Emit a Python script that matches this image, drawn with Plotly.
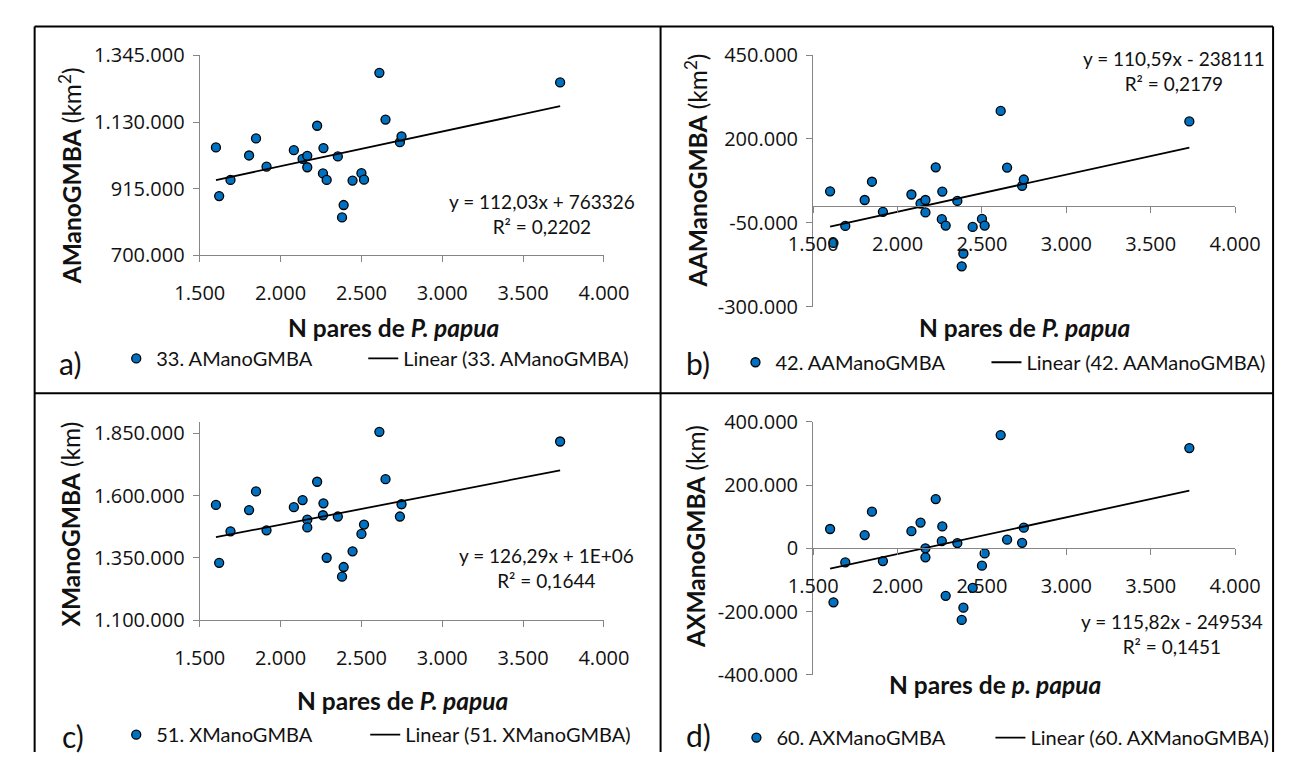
import plotly.graph_objects as go

W, H = 1301, 765

# ---------------- data ----------------
N_PARES = [1600, 1620, 1690, 1805, 1848, 1913, 2082, 2136, 2165, 2165, 2226, 2265,
           2262, 2285, 2354, 2390, 2380, 2445, 2500, 2516, 2611, 2649, 2738, 2748, 3729]

A_MANO = [1048000, 891000, 943000, 1022000, 1077000, 986000, 1039000, 1011000, 1021000,
          984000, 1118000, 1046000, 964000, 943000, 1019000, 862000, 822000, 941000,
          965000, 944000, 1289000, 1138000, 1065000, 1084000, 1258000]

AA_MANO = [43900, -110000, -59300, 18000, 72500, -17200, 34400, 7500, 18000, -19200,
           115500, 43000, -39300, -58400, 15200, -141600, -179800, -62200, -38400,
           -58400, 283800, 114700, 60200, 79100, 252300]

X_MANO = [1562900, 1330100, 1457000, 1542300, 1617200, 1460800, 1554000, 1582300,
          1503500, 1472500, 1656000, 1569500, 1521400, 1350600, 1516300, 1313400,
          1274600, 1376600, 1446500, 1484100, 1856600, 1666500, 1516300, 1565600, 1817800]

AX_MANO = [61000, -170700, -44500, 41800, 115900, -40500, 54000, 81400, 0, -28400,
           155500, 69200, 22600, -150300, 16500, -187800, -226500, -125000, -54900,
           -16200, 358000, 27400, 17400, 65200, 317000]

SERIES_NAMES = ["33. AManoGMBA", "42. AAManoGMBA", "51. XManoGMBA", "60. AXManoGMBA"]
Y_TITLES = ["<b>AManoGMBA</b> (km<sup>2</sup>)", "<b>AAManoGMBA</b> (km<sup>2</sup>)",
            "<b>XManoGMBA</b> (km)", "<b>AXManoGMBA</b> (km)"]
X_TITLES = ["<b>N pares de <i>P. papua</i></b>", "<b>N pares de <i>P. papua</i></b>",
            "<b>N pares de <i>P. papua</i></b>", "<b>N pares de <i>p. papua</i></b>"]
PANEL_LABELS = ["a)", "b)", "c)", "d)"]

# trendline coefficients as printed on the chart (c's intercept printed as 1E+06)
SLOPES = [112.03, 110.59, 126.29, 115.82]
INTERCEPTS = [763326, -238111, 1231000, -249534]
EQ_TEXT = ["y = 112,03x + 763326<br>R² = 0,2202",
           "y = 110,59x - 238111<br>R² = 0,2179",
           "y = 126,29x + 1E+06<br>R² = 0,1644",
           "y = 115,82x - 249534<br>R² = 0,1451"]

X_TICKS = [1500, 2000, 2500, 3000, 3500, 4000]
Y_TICKS = [[700000, 915000, 1130000, 1345000],
           [-300000, -50000, 200000, 450000],
           [1100000, 1350000, 1600000, 1850000],
           [-400000, -200000, 0, 200000, 400000]]
Y_RANGES = [[700000, 1345000], [-300000, 450000], [1100000, 1897000], [-400000, 400000]]
X_RANGE = [1500, 4000]

SERIES = [A_MANO, AA_MANO, X_MANO, AX_MANO]

# ---------------- layout geometry (pixels) ----------------
PLOT_BOX = [  # x0, x1, ytop, ybottom
    (181, 602, 43, 250),
    (820, 1259.4, 42.7, 303.3),
    (181, 602, 422.7, 628.3),
    (820, 1259.4, 422.7, 685),
]
Y_TITLE_POS = [(46, 168), (698, 162), (46, 529), (698, 542)]
X_TITLE_POS = [(383, 325), (1040, 325), (392, 712), (1009, 695)]
EQ_POS = [(537, 207), (1196, 59), (542, 574), (1194, 643)]
LABEL_POS = [(46, 362), (700, 362), (49, 748), (701, 747)]
LEGEND_POS = [(94, 357), (739, 361), (94, 747), (740, 750)]
LEGEND_FIRST_W = [202, 206, 204, 209]

FONT = "Lato"
TICK_FONT = "Open Sans"
BLUE = "#0070C0"
AXIS_GRAY = "#868686"


def fx(p):
    return p / W


def fy(p):
    return 1 - p / H


def fmt(v):
    s = f"{abs(int(v)):,}".replace(",", ".")
    return ("-" if v < 0 else "") + s


fig = go.Figure()
layout = dict(
    width=W, height=H, margin=dict(l=0, r=0, t=0, b=0),
    paper_bgcolor="white", plot_bgcolor="rgba(0,0,0,0)",
    showlegend=True, annotations=[], shapes=[],
)

x_min, x_max = min(N_PARES), max(N_PARES)

for i in range(4):
    k = "" if i == 0 else str(i + 1)
    xa, ya = "x" + k, "y" + k
    leg = "legend" + k
    x0, x1, yt, yb = PLOT_BOX[i]
    ymin, ymax = Y_RANGES[i]

    fig.add_trace(go.Scatter(
        x=N_PARES, y=SERIES[i], mode="markers", name=SERIES_NAMES[i],
        xaxis=xa, yaxis=ya, legend=leg, legendwidth=LEGEND_FIRST_W[i],
        marker=dict(color=BLUE, size=9, line=dict(color="black", width=1.3)),
        hoverinfo="skip"))
    fig.add_trace(go.Scatter(
        x=[x_min, x_max],
        y=[SLOPES[i] * x_min + INTERCEPTS[i], SLOPES[i] * x_max + INTERCEPTS[i]],
        mode="lines", name=f"Linear ({SERIES_NAMES[i]})",
        xaxis=xa, yaxis=ya, legend=leg,
        line=dict(color="black", width=1.8), hoverinfo="skip"))

    dom_x = [fx(x0), fx(x1)]
    dom_y = [fy(yb), fy(yt)]
    common = dict(showgrid=False, zeroline=False, showline=True, linecolor=AXIS_GRAY,
                  linewidth=1.3, ticks="outside", ticklen=6, tickcolor=AXIS_GRAY,
                  tickwidth=1.3, tickfont=dict(family=TICK_FONT, size=20, color="#111"),
                  fixedrange=True)
    xaxis = dict(common, domain=dom_x, range=X_RANGE, tickmode="array",
                 tickvals=X_TICKS, ticktext=[fmt(v) for v in X_TICKS],
                 ticklabelstandoff=14)
    if ymin < 0:
        pos = dom_y[0] + (0 - ymin) / (ymax - ymin) * (dom_y[1] - dom_y[0])
        xaxis.update(anchor="free", position=pos)
    else:
        xaxis.update(anchor=ya)
    yaxis = dict(common, domain=dom_y, range=[ymin, ymax], anchor=xa, tickmode="array",
                 tickvals=Y_TICKS[i], ticktext=[fmt(v) for v in Y_TICKS[i]],
                 ticklabelstandoff=4)
    layout["xaxis" + k] = xaxis
    layout["yaxis" + k] = yaxis

    lx, ly = LEGEND_POS[i]
    layout[leg] = dict(orientation="h", x=fx(lx), y=fy(ly), xanchor="left",
                       yanchor="middle", bgcolor="rgba(0,0,0,0)",
                       font=dict(family=FONT, size=20, color="#111"))

    tx, ty = Y_TITLE_POS[i]
    layout["annotations"].append(dict(
        text=Y_TITLES[i], x=fx(tx), y=fy(ty), xref="paper", yref="paper",
        textangle=-90, showarrow=False, xanchor="center", yanchor="middle",
        font=dict(family=FONT, size=24.5, color="#111")))
    tx, ty = X_TITLE_POS[i]
    layout["annotations"].append(dict(
        text=X_TITLES[i], x=fx(tx), y=fy(ty), xref="paper", yref="paper",
        showarrow=False, xanchor="center", yanchor="middle",
        font=dict(family=FONT, size=24.5, color="#111")))
    tx, ty = EQ_POS[i]
    layout["annotations"].append(dict(
        text=EQ_TEXT[i], x=fx(tx), y=fy(ty), xref="paper", yref="paper",
        showarrow=False, xanchor="center", yanchor="middle", align="center",
        font=dict(family=FONT, size=19, color="#111")))
    tx, ty = LABEL_POS[i]
    layout["annotations"].append(dict(
        text=PANEL_LABELS[i], x=fx(tx), y=fy(ty), xref="paper", yref="paper",
        showarrow=False, xanchor="center", yanchor="middle",
        font=dict(family=FONT, size=30, color="#111")))

# panel frame lines
FRAME = [(9, 13, 1299, 13), (9, 13, 9, 765), (661, 13, 661, 765),
         (9, 393, 1299, 393), (1299, 13, 1299, 765)]
for (a, b, c, d) in FRAME:
    layout["shapes"].append(dict(type="line", xref="paper", yref="paper",
                                 x0=fx(a), y0=fy(b), x1=fx(c), y1=fy(d),
                                 line=dict(color="black", width=2)))

fig.update_layout(**layout)
fig.write_html("out.html")
